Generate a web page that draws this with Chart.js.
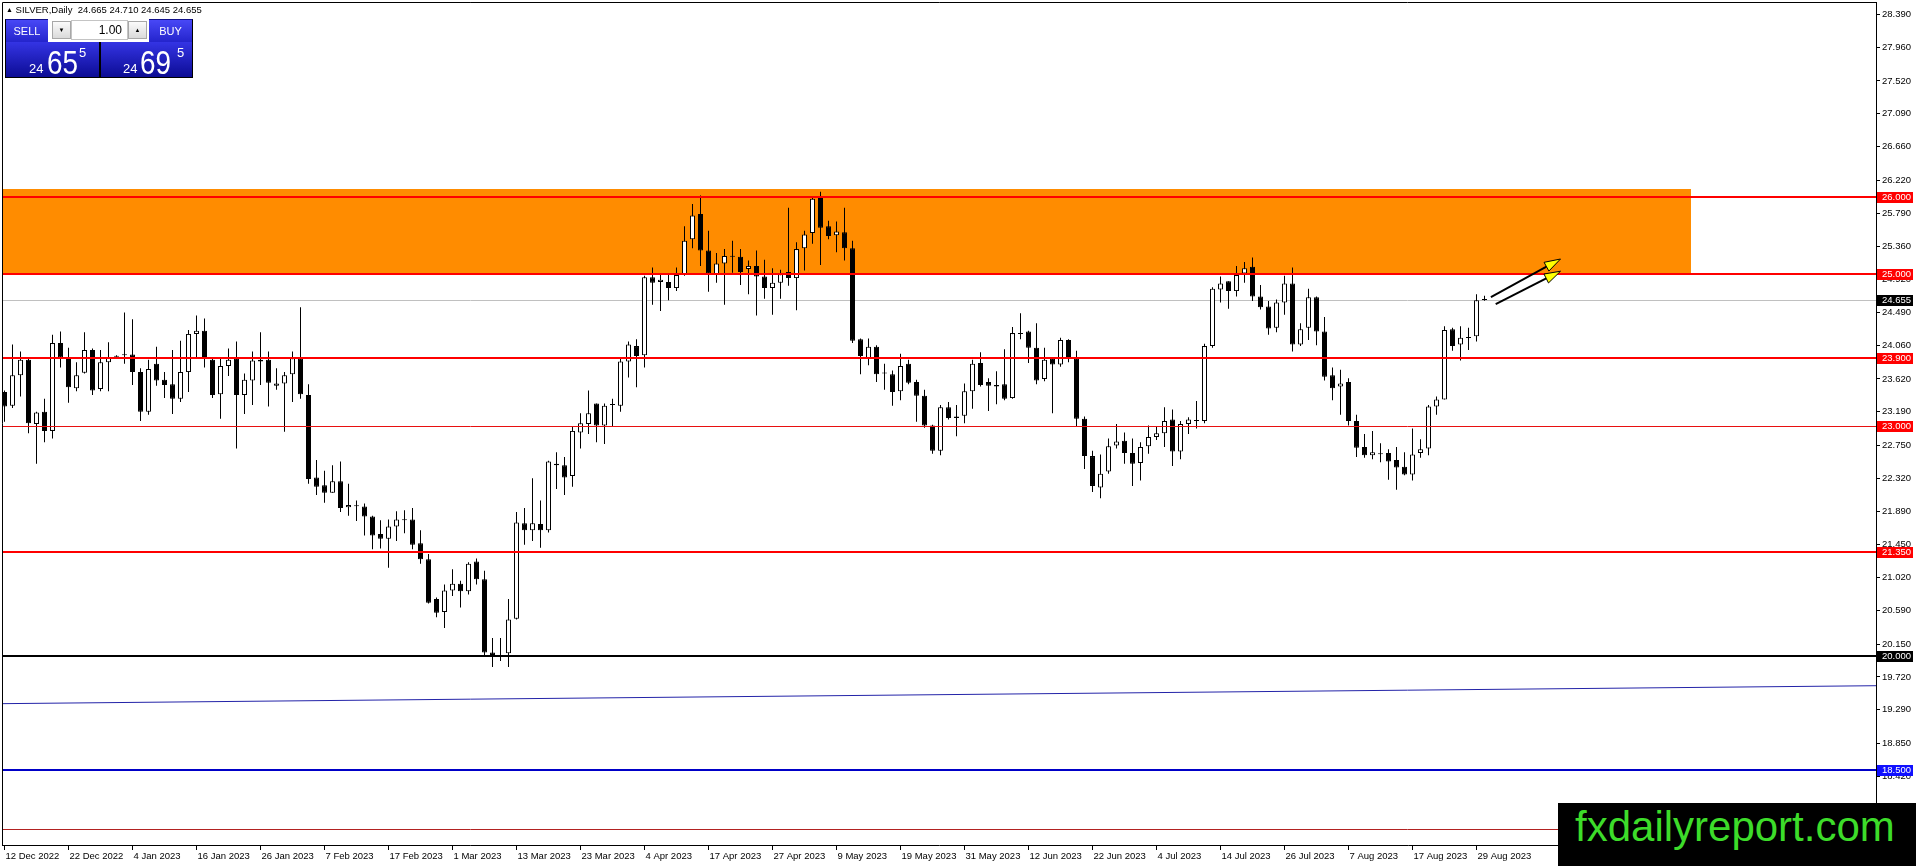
<!DOCTYPE html>
<html>
<head>
<meta charset="utf-8">
<title>SILVER Daily</title>
<script src="https://cdn.jsdelivr.net/npm/chart.js@4.4.1/dist/chart.umd.min.js"></script>
<style>
html, body { margin: 0; padding: 0; background: #fff; overflow: hidden; }
#wrap { position: relative; width: 1916px; height: 866px; font-family: 'Liberation Sans', Arial, sans-serif; }
#c { position: absolute; left: 0; top: 0; }
#title { position: absolute; left: 6px; top: 4px; font-size: 9.5px; line-height: 11px; color: #000; white-space: pre; }
#title .tri { font-size: 7px; vertical-align: 1px; }
.btn { position: absolute; top: 19px; height: 23px; background: linear-gradient(#4848f6, #2424cc); color: #fff; font-size: 11px; line-height: 23px; text-align: center; border-top: 1px solid #10108a; box-sizing: border-box; }
.spin { position: absolute; top: 21px; width: 19px; height: 18px; box-sizing: border-box; background: linear-gradient(#fbfbfb, #dadada); border: 1px solid #a8a8a8; font-size: 6px; line-height: 16px; text-align: center; color: #000; }
#qty { position: absolute; left: 71px; top: 20px; width: 57px; height: 20px; box-sizing: border-box; background: #fff; border: 1px solid #c4c4c4; font-size: 12px; line-height: 18px; text-align: right; padding-right: 5px; }
#lower { position: absolute; left: 5px; top: 42px; width: 188px; height: 36px; background: #000; }
.quote { position: absolute; top: 0; height: 35px; background: linear-gradient(#3434e4, #0c0c94); color: #fff; }
.quote span { position: absolute; line-height: 1; white-space: nowrap; }
.small { font-size: 13px; top: 20px; }
.big { font-size: 34px; top: 3px; transform: scaleX(0.82); transform-origin: left top; }
.sup { font-size: 13px; top: 4px; }
#logo { position: absolute; left: 1558px; top: 803px; width: 358px; height: 63px; background: #000; }
#logo span { position: absolute; left: 17px; top: 3px; font-size: 42px; line-height: 42px; color: #3ddc2a; white-space: nowrap; }
</style>
</head>
<body>
<div id="wrap">
  <canvas id="c" width="1916" height="866"></canvas>
  <div id="title"><span class="tri">▲</span> SILVER,Daily  24.665 24.710 24.645 24.655</div>
  <div class="btn" style="left:5px;width:43px;border-left:1px solid #000">SELL</div>
  <div class="spin" style="left:52px">▼</div>
  <div id="qty">1.00</div>
  <div class="spin" style="left:128px">▲</div>
  <div class="btn" style="left:149px;width:44px;border-right:1px solid #000">BUY</div>
  <div id="lower">
    <div class="quote" style="left:1px;width:93px">
      <span class="small" style="left:23px">24</span>
      <span class="big" style="left:41px">65</span>
      <span class="sup" style="left:73px">5</span>
    </div>
    <div class="quote" style="left:96px;width:91px">
      <span class="small" style="left:22px">24</span>
      <span class="big" style="left:39px">69</span>
      <span class="sup" style="left:76px">5</span>
    </div>
  </div>
  <div id="logo"><span>fxdailyreport.com</span></div>
</div>
<script>
// SILVER daily candles, 12 Dec 2022 .. 30 Aug 2023
const opens = [
  23.45, 23.27, 23.67, 23.87, 23.03, 23.19, 22.94, 24.09, 23.90, 23.50,
  23.70, 24.00, 23.49, 23.84, 23.91, 23.93, 23.94, 23.71, 23.19, 23.82,
  23.61, 23.55, 23.36, 23.71, 24.21, 24.25, 23.87, 23.42, 23.79, 23.89,
  23.41, 23.60, 23.87, 23.87, 23.53, 23.56, 23.68, 23.89, 23.41, 22.33,
  22.23, 22.13, 22.28, 21.94, 21.96, 21.95, 21.82, 21.59, 21.53, 21.69,
  21.77, 21.78, 21.47, 21.26, 20.74, 20.57, 20.85, 20.94, 20.84, 21.23,
  21.00, 20.04, 19.99, 20.03, 20.48, 21.73, 21.64, 21.72, 21.64, 22.51,
  22.49, 22.35, 22.92, 23.03, 23.30, 23.01, 23.28, 23.27, 23.85, 24.05,
  23.93, 24.95, 24.89, 24.89, 24.81, 24.98, 25.45, 25.78, 25.30, 24.99,
  25.13, 25.23, 25.22, 25.06, 25.10, 24.96, 24.81, 24.88, 25.02, 24.94,
  25.33, 25.53, 25.99, 25.62, 25.50, 25.54, 25.33, 24.14, 23.89, 24.04,
  23.69, 23.68, 23.46, 23.82, 23.58, 23.40, 23.01, 22.68, 23.25, 23.11,
  23.14, 23.46, 23.83, 23.58, 23.52, 23.55, 23.37, 24.22, 24.24, 24.03,
  23.62, 23.89, 23.81, 24.13, 23.89, 23.10, 22.61, 22.20, 22.41, 22.75,
  22.81, 22.65, 22.52, 22.74, 22.86, 22.91, 23.09, 22.67, 23.03, 23.08,
  23.07, 24.05, 24.79, 24.90, 24.77, 25.00, 25.09, 24.70, 24.57, 24.29,
  24.62, 24.87, 24.07, 24.29, 24.69, 24.24, 23.67, 23.52, 23.58, 23.07,
  22.73, 22.62, 22.64, 22.65, 22.56, 22.47, 22.37, 22.65, 22.71, 23.26,
  23.35, 24.27, 24.07, 24.16, 24.18, 24.665
];
const highs = [
  23.47, 24.07, 23.98, 23.89, 23.19, 23.36, 24.20, 24.24, 24.03, 23.84,
  24.23, 24.02, 24.00, 24.10, 23.93, 24.49, 24.40, 23.76, 23.87, 24.04,
  23.71, 24.00, 24.12, 24.26, 24.45, 24.41, 23.90, 23.89, 24.02, 24.11,
  23.69, 23.98, 24.23, 23.98, 23.76, 23.71, 23.98, 24.56, 23.55, 22.56,
  22.42, 22.49, 22.54, 22.25, 22.03, 21.99, 21.83, 21.77, 21.78, 21.89,
  21.90, 21.93, 21.64, 21.33, 20.76, 20.93, 21.13, 20.98, 21.22, 21.27,
  21.11, 20.23, 20.23, 20.74, 21.88, 21.93, 22.32, 22.03, 22.55, 22.66,
  22.60, 23.00, 23.17, 23.47, 23.30, 23.30, 23.36, 23.89, 24.11, 24.14,
  24.97, 25.08, 24.98, 24.98, 25.08, 25.62, 25.91, 26.02, 25.56, 25.27,
  25.32, 25.43, 25.32, 25.17, 25.30, 25.18, 25.07, 25.05, 25.86, 25.41,
  25.56, 25.99, 26.07, 25.69, 25.68, 25.86, 25.43, 24.15, 24.15, 24.06,
  23.82, 23.73, 23.95, 23.87, 23.61, 23.48, 23.02, 23.28, 23.32, 23.28,
  23.56, 23.87, 23.97, 23.63, 23.72, 24.01, 24.30, 24.48, 24.25, 24.35,
  24.03, 23.90, 24.16, 24.14, 23.99, 23.13, 22.68, 22.63, 22.84, 23.03,
  22.92, 22.84, 22.79, 23.01, 22.99, 23.25, 23.22, 23.07, 23.12, 23.33,
  24.08, 24.82, 24.96, 24.90, 25.10, 25.15, 25.21, 24.85, 24.64, 24.66,
  24.97, 25.08, 24.35, 24.80, 24.70, 24.43, 23.77, 23.74, 23.63, 23.15,
  22.90, 22.94, 22.78, 22.70, 22.73, 22.66, 22.97, 22.83, 23.28, 23.39,
  24.31, 24.29, 24.31, 24.29, 24.73, 24.71
];
const lows = [
  23.06, 23.24, 23.39, 22.91, 22.51, 22.79, 22.84, 23.77, 23.31, 23.46,
  23.69, 23.41, 23.46, 23.46, 23.91, 23.82, 23.54, 23.07, 23.15, 23.53,
  23.37, 23.16, 23.32, 23.45, 23.88, 23.77, 23.37, 23.10, 23.66, 22.71,
  23.16, 23.28, 23.54, 23.26, 23.48, 22.93, 23.32, 23.36, 22.25, 22.10,
  22.00, 22.13, 21.88, 21.83, 21.76, 21.57, 21.39, 21.40, 21.15, 21.50,
  21.60, 21.39, 21.20, 20.68, 20.50, 20.36, 20.78, 20.63, 20.80, 20.93,
  19.99, 19.85, 19.93, 19.85, 20.47, 21.45, 21.50, 21.41, 21.61, 22.18,
  22.10, 22.21, 22.71, 22.90, 22.79, 22.77, 22.99, 23.19, 23.64, 23.51,
  23.77, 24.59, 24.51, 24.65, 24.77, 24.97, 25.33, 25.10, 24.76, 24.88,
  24.59, 25.01, 24.85, 24.73, 24.45, 24.67, 24.46, 24.67, 24.84, 24.52,
  25.04, 25.39, 25.11, 25.45, 25.28, 25.17, 24.09, 23.68, 23.80, 23.58,
  23.48, 23.27, 23.34, 23.55, 23.06, 22.98, 22.64, 22.62, 23.09, 22.87,
  23.04, 23.23, 23.52, 23.20, 23.29, 23.34, 23.36, 24.14, 23.83, 23.55,
  23.59, 23.17, 23.78, 23.84, 23.00, 22.44, 22.14, 22.06, 22.38, 22.71,
  22.51, 22.22, 22.29, 22.64, 22.82, 22.73, 22.48, 22.57, 22.90, 22.97,
  23.04, 24.03, 24.62, 24.54, 24.70, 24.88, 24.64, 24.53, 24.20, 24.23,
  24.46, 23.98, 24.05, 24.13, 24.06, 23.60, 23.34, 23.15, 23.01, 22.60,
  22.59, 22.57, 22.53, 22.30, 22.17, 22.36, 22.29, 22.59, 22.62, 23.15,
  23.35, 23.99, 23.86, 24.00, 24.11, 24.645
];
const closes = [
  23.26, 23.67, 23.87, 23.04, 23.18, 22.94, 24.09, 23.90, 23.51, 23.67,
  24.00, 23.47, 23.84, 23.90, 23.92, 23.94, 23.71, 23.19, 23.75, 23.60,
  23.54, 23.36, 23.71, 24.21, 24.25, 23.89, 23.41, 23.79, 23.87, 23.41,
  23.61, 23.86, 23.85, 23.57, 23.56, 23.67, 23.89, 23.42, 22.31, 22.21,
  22.13, 22.28, 21.93, 21.97, 21.955, 21.82, 21.57, 21.53, 21.69, 21.78,
  21.775, 21.45, 21.26, 20.69, 20.56, 20.85, 20.94, 20.84, 21.20, 21.00,
  20.04, 19.98, 20.00, 20.47, 21.74, 21.64, 21.73, 21.64, 22.54, 22.49,
  22.33, 22.94, 23.04, 23.17, 23.01, 23.27, 23.285, 23.85, 24.07, 23.92,
  24.95, 24.88, 24.92, 24.81, 24.98, 25.43, 25.76, 25.30, 25.00, 25.13,
  25.23, 25.22, 25.02, 25.10, 24.96, 24.81, 24.88, 24.99, 24.94, 25.32,
  25.51, 25.98, 25.60, 25.49, 25.55, 25.33, 24.12, 23.92, 24.04, 23.68,
  23.695, 23.45, 23.79, 23.57, 23.40, 23.01, 22.68, 23.25, 23.11, 23.13,
  23.46, 23.82, 23.54, 23.53, 23.54, 23.36, 24.22, 24.21, 24.03, 23.60,
  23.87, 23.81, 24.13, 23.89, 23.10, 22.61, 22.22, 22.38, 22.74, 22.80,
  22.65, 22.51, 22.73, 22.86, 22.91, 23.07, 22.67, 23.03, 23.09, 23.07,
  24.05, 24.80, 24.87, 24.77, 24.98, 25.07, 24.70, 24.56, 24.28, 24.62,
  24.87, 24.07, 24.27, 24.69, 24.24, 23.65, 23.50, 23.56, 23.07, 22.72,
  22.62, 22.66, 22.635, 22.54, 22.46, 22.37, 22.63, 22.70, 23.26, 23.35,
  24.26, 24.05, 24.16, 24.155, 24.65, 24.655
];

// axis labels
const priceTicks = [28.39, 27.96, 27.52, 27.09, 26.66, 26.22, 25.79, 25.36, 24.92, 24.49, 24.06, 23.62,
  23.19, 22.75, 22.32, 21.89, 21.45, 21.02, 20.59, 20.15, 19.72, 19.29, 18.85, 18.42];
const dateTickBars = [0, 8, 16, 24, 32, 40, 48, 56, 64, 72, 80, 88, 96, 104, 112, 120, 128, 136, 144, 152, 160, 168, 176, 184];
const dateLabels = ['12 Dec 2022', '22 Dec 2022', '4 Jan 2023', '16 Jan 2023', '26 Jan 2023', '7 Feb 2023',
  '17 Feb 2023', '1 Mar 2023', '13 Mar 2023', '23 Mar 2023', '4 Apr 2023', '17 Apr 2023', '27 Apr 2023',
  '9 May 2023', '19 May 2023', '31 May 2023', '12 Jun 2023', '22 Jun 2023', '4 Jul 2023', '14 Jul 2023',
  '26 Jul 2023', '7 Aug 2023', '17 Aug 2023', '29 Aug 2023'];

// drawn objects (prices / bar numbers)
const levelPrices = [26.0, 25.0, 23.9, 23.0, 21.35, 20.0, 18.5, 17.73];
const bidPrice = 24.655;
const zoneBars = [-5, 210.8];
const zonePrices = [24.99, 26.10];
const trendBars = [-0.3125, 233.9375];
const trendPrices = [19.37, 19.605];
const arrowBars = [[185.8, 194.5], [186.4, 194.5]];
const arrowPrices = [[24.69, 25.19], [24.60, 25.03]];

// styles for the levels, same order as levelPrices
const levelStyle = [
  { color: '#ff0000', width: 2, box: '#ff0000' },
  { color: '#ff0000', width: 2, box: '#ff0000' },
  { color: '#ff0000', width: 2, box: '#ff0000' },
  { color: '#e81010', width: 1, box: '#ff0000' },
  { color: '#ff0000', width: 2, box: '#ff0000' },
  { color: '#000000', width: 2, box: '#000000' },
  { color: '#0000c8', width: 2, box: '#1010ff' },
  { color: '#b22222', width: 1, box: null }
];

const FONT = 'Liberation Sans';
const barIdx = opens.map((_, i) => i);

const drawings = {
  id: 'drawings',
  beforeDatasetsDraw(chart) {
    const { ctx, chartArea: a, scales: { x, y } } = chart;
    ctx.save();
    ctx.beginPath(); ctx.rect(a.left, a.top, a.right - a.left, a.bottom - a.top); ctx.clip();
    const x0 = x.getPixelForValue(zoneBars[0]), x1 = Math.round(x.getPixelForValue(zoneBars[1]));
    const y0 = Math.round(y.getPixelForValue(zonePrices[1])), y1 = Math.round(y.getPixelForValue(zonePrices[0]));
    ctx.fillStyle = '#ff8c00';
    ctx.fillRect(x0, y0, x1 - x0, y1 - y0);
    const by = Math.round(y.getPixelForValue(bidPrice)) + 0.5;
    ctx.strokeStyle = '#c0c0c0'; ctx.lineWidth = 1;
    ctx.beginPath(); ctx.moveTo(a.left, by); ctx.lineTo(a.right, by); ctx.stroke();
    ctx.restore();
  },
  afterDatasetsDraw(chart) {
    const { ctx, chartArea: a, scales: { x, y } } = chart;
    ctx.save();
    ctx.beginPath(); ctx.rect(a.left, a.top, a.right - a.left, a.bottom - a.top); ctx.clip();
    levelPrices.forEach((p, i) => {
      const s = levelStyle[i];
      let py = Math.round(y.getPixelForValue(p));
      if (s.width % 2) py += 0.5;
      ctx.strokeStyle = s.color; ctx.lineWidth = s.width;
      ctx.beginPath(); ctx.moveTo(a.left, py); ctx.lineTo(a.right, py); ctx.stroke();
    });
    // trend line
    ctx.strokeStyle = '#2323a8'; ctx.lineWidth = 1;
    ctx.beginPath();
    ctx.moveTo(x.getPixelForValue(trendBars[0]), y.getPixelForValue(trendPrices[0]));
    ctx.lineTo(x.getPixelForValue(trendBars[1]), y.getPixelForValue(trendPrices[1]));
    ctx.stroke();
    // arrows
    arrowBars.forEach((b, i) => {
      const sx = x.getPixelForValue(b[0]), sy = y.getPixelForValue(arrowPrices[i][0]);
      const ex = x.getPixelForValue(b[1]), ey = y.getPixelForValue(arrowPrices[i][1]);
      const ang = Math.atan2(ey - sy, ex - sx), len = 16, half = 5;
      const bx = ex - Math.cos(ang) * len, byy = ey - Math.sin(ang) * len;
      ctx.strokeStyle = '#000'; ctx.lineWidth = 2;
      ctx.beginPath(); ctx.moveTo(sx, sy); ctx.lineTo(bx, byy); ctx.stroke();
      ctx.beginPath();
      ctx.moveTo(ex, ey);
      ctx.lineTo(bx + Math.sin(ang) * half, byy - Math.cos(ang) * half);
      ctx.lineTo(bx - Math.sin(ang) * half, byy + Math.cos(ang) * half);
      ctx.closePath();
      ctx.fillStyle = '#ffff00'; ctx.fill();
      ctx.lineWidth = 1; ctx.stroke();
    });
    ctx.restore();
  },
  afterDraw(chart) {
    const { ctx, chartArea: a, scales: { y } } = chart;
    ctx.save();
    // frame left / top
    ctx.strokeStyle = '#000'; ctx.lineWidth = 1;
    ctx.beginPath(); ctx.moveTo(a.left + 0.5, a.bottom); ctx.lineTo(a.left + 0.5, a.top + 0.5); ctx.lineTo(a.right, a.top + 0.5); ctx.stroke();
    // price boxes on the axis
    const box = (p, bg) => {
      const py = Math.round(y.getPixelForValue(p));
      ctx.fillStyle = bg;
      ctx.fillRect(a.right + 1, py - 5, 36, 11);
      ctx.fillStyle = '#fff';
      ctx.font = '9.5px ' + FONT;
      ctx.textBaseline = 'middle'; ctx.textAlign = 'left';
      ctx.fillText(p.toFixed(3), a.right + 6, py + 0.5);
    };
    levelPrices.forEach((p, i) => { if (levelStyle[i].box) box(p, levelStyle[i].box); });
    box(bidPrice, '#000');
    ctx.restore();
  }
};

new Chart(document.getElementById('c'), {
  type: 'bar',
  data: {
    datasets: [
      {
        label: 'wick',
        data: barIdx.map(i => ({ x: i, y: [lows[i], highs[i]] })),
        backgroundColor: '#000',
        barThickness: 1,
        grouped: false,
        inflateAmount: 0,
        order: 2
      },
      {
        label: 'body',
        data: barIdx.map(i => ({ x: i, y: [opens[i], closes[i]] })),
        backgroundColor: barIdx.map(i => closes[i] >= opens[i] ? '#ffffff' : '#000000'),
        borderColor: '#000',
        borderWidth: 1,
        borderSkipped: false,
        barThickness: 5,
        minBarLength: 1,
        grouped: false,
        inflateAmount: 0,
        order: 1
      }
    ]
  },
  options: {
    responsive: false,
    devicePixelRatio: 1,
    animation: false,
    events: [],
    layout: { padding: { left: 2, top: 2, right: 0, bottom: 0 } },
    plugins: { legend: { display: false }, tooltip: { enabled: false } },
    scales: {
      x: {
        type: 'linear',
        min: -0.3125,
        max: 233.9375,
        offset: false,
        afterBuildTicks: s => { s.ticks = dateTickBars.map(v => ({ value: v })); },
        afterFit: s => { s.height = 21; s.paddingLeft = 0; s.paddingRight = 0; },
        ticks: {
          autoSkip: false, maxRotation: 0, minRotation: 0, align: 'start', labelOffset: 1, padding: 1,
          color: '#000', font: { family: FONT, size: 9.5 },
          callback: (v, i) => dateLabels[i]
        },
        grid: { drawOnChartArea: false, drawTicks: true, tickLength: 5, color: '#000', offset: false },
        border: { display: true, color: '#000', width: 1 }
      },
      y: {
        position: 'right',
        min: 17.52,
        max: 28.554,
        beginAtZero: false,
        afterBuildTicks: s => { s.ticks = priceTicks.map(v => ({ value: v })); },
        afterFit: s => { s.width = 40; s.paddingTop = 0; s.paddingBottom = 0; },
        ticks: {
          autoSkip: false, padding: 2, color: '#000', font: { family: FONT, size: 9.5 },
          callback: v => Number(v).toFixed(3)
        },
        grid: { drawOnChartArea: false, drawTicks: true, tickLength: 4, color: '#000' },
        border: { display: true, color: '#000', width: 1 }
      }
    }
  },
  plugins: [drawings]
});
</script>
</body>
</html>
